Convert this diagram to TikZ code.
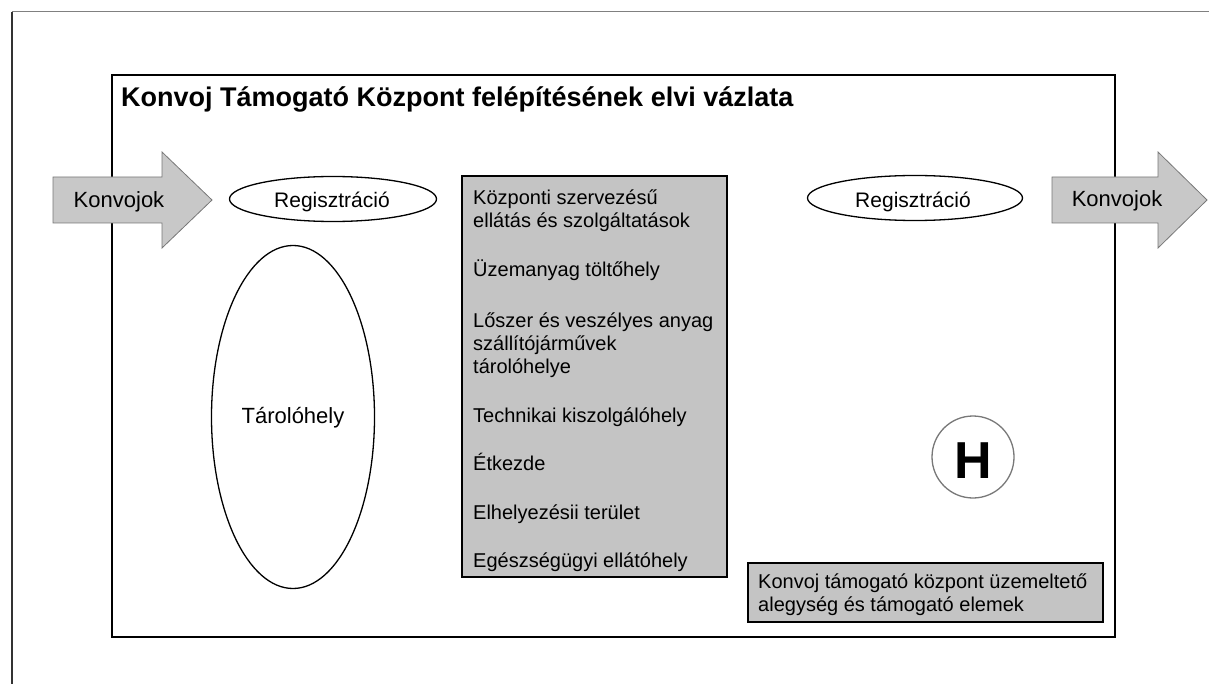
\documentclass[tikz,border=0pt]{standalone}
\usepackage{fontspec}
\setmainfont{Liberation Sans}
\usetikzlibrary{shapes.geometric}

\definecolor{boxgray}{RGB}{196,196,196}
\definecolor{arrowgray}{RGB}{200,200,200}
\definecolor{edgegray}{RGB}{120,120,120}

\tikzset{
    txt/.style={inner sep=0pt, font=\fontsize{20}{23}\selectfont},
    bigtxt/.style={inner sep=0pt, font=\fontsize{22}{25}\selectfont},
    oval/.style={draw, ellipse, line width=1.3pt, inner sep=0pt},
    graybox/.style={draw, line width=2.6pt, fill=boxgray, inner sep=0pt},
    bigarrow/.style={draw=edgegray, line width=0.8pt, fill=arrowgray}
}

\begin{document}
\begin{tikzpicture}[x=1pt, y=-1pt]
                            \useasboundingbox (0,0) rectangle (1209,684);
                            % outer frame
                            \draw[gray, line width=1pt] (12,12) -- (1209,12);
                            \draw[black!80, line width=2pt] (12,12) -- (12,684);

                            % main box
                            \draw[line width=2.6pt] (112,75) rectangle (1115,637);
                            \node[anchor=base west, inner sep=0pt, font=\fontsize{27}{30}\bfseries\selectfont]
                                (title) at (121,107) {Konvoj Támogató Központ felépítésének elvi vázlata};

                            % in / out
                            \draw[bigarrow] (53,177) -- (162,177) -- (162,152) -- (212,200)
                                -- (162,248) -- (162,223) -- (53,223) -- cycle;
                            \draw[bigarrow] (1052,177) -- (1158,177) -- (1158,152) -- (1207,200)
                                -- (1158,248) -- (1158,223) -- (1052,223) -- cycle;
                            \node[bigtxt, anchor=base] (in) at (119,208) {Konvojok};
                            \node[bigtxt, anchor=base] (out) at (1117,207) {Konvojok};

                            % registration and storage
                            \node[oval, minimum width=207pt, minimum height=45pt] (regin) at (333,199) {};
                            \node[txt, anchor=base, font=\fontsize{21}{24}\selectfont] (regintxt) at (332,208) {Regisztráció};
                            \node[oval, minimum width=215pt, minimum height=45pt] (regout) at (915,198) {};
                            \node[txt, anchor=base, font=\fontsize{21}{24}\selectfont] (regouttxt) at (913,208) {Regisztráció};
                            \node[oval, minimum width=163pt, minimum height=343pt] (store) at (293,417) {};
                            \node[bigtxt, anchor=base] (storetxt) at (293,423) {Tárolóhely};

                            % central services (base = last line)
                            \node[graybox, minimum width=265pt, minimum height=401pt] (services) at (594.5,376.5) {};
                            \node[txt, anchor=base west, align=left] (s1) at (473,228) {Központi  szervezésű\\ellátás és szolgáltatások};
                            \node[txt, anchor=base west] (s2) at (473,277) {Üzemanyag  töltőhely};
                            \node[txt, anchor=base west, align=left] (s3) at (473,373) {Lőszer és veszélyes anyag\\szállítójárművek\\tárolóhelye};
                            \node[txt, anchor=base west] (s4) at (473,422) {Technikai kiszolgálóhely};
                            \node[txt, anchor=base west] (s5) at (473,470) {Étkezde};
                            \node[txt, anchor=base west] (s6) at (473,519) {Elhelyezésii  terület};
                            \node[txt, anchor=base west] (s7) at (473,567) {Egészségügyi  ellátóhely};

                            % helipad
                            \node[draw=edgegray, circle, line width=1.3pt, minimum size=82pt, inner sep=0pt] (heli) at (973,457) {};
                            \node[anchor=base, inner sep=0pt, font=\fontsize{52}{56}\bfseries\selectfont] (helitxt) at (973,478) {H};

                            % operating unit
                            \node[graybox, minimum width=355pt, minimum height=59pt] (unit) at (925.5,592.5) {};
                            \node[txt, anchor=base west, align=left] (unittxt) at (758,611) {Konvoj támogató központ  üzemeltető\\alegység és támogató elemek};
                        \end{tikzpicture}
\end{document}
